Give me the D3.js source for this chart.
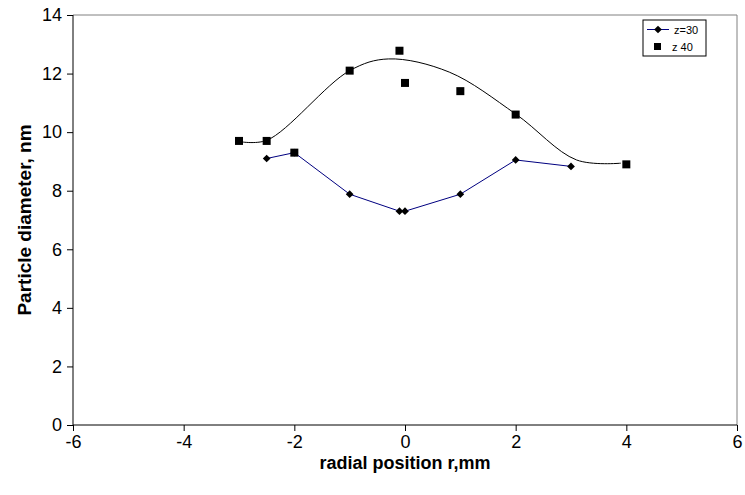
<!DOCTYPE html>
<html>
<head>
<meta charset="utf-8">
<script src="https://cdn.jsdelivr.net/npm/d3@7"></script>
<style>
  html, body { margin: 0; padding: 0; background: #fff; }
  svg { display: block; font-family: "Liberation Sans", Arial, sans-serif; }
</style>
</head>
<body>
<svg id="chart" width="745" height="495"></svg>
<script>
// Measurements along the radial direction (mm) and particle diameters (nm)
const z30R = [-2.5, -2, -1, -0.1, 0, 1, 2, 3];
const z30D = [9.1, 9.3, 7.88, 7.3, 7.3, 7.88, 9.05, 8.83];

const z40R = [-3, -2.5, -2, -1, -0.1, 0, 1, 2, 4];
const z40D = [9.7, 9.7, 9.3, 12.1, 12.78, 11.68, 11.4, 10.6, 8.9];

// Smoothed trend drawn through the z 40 profile
const trendR = [-3, -2.5, -1, -0.3, 0.8, 2, 3.1, 3.9];
const trendD = [9.68, 9.72, 12.1, 12.5, 12.05, 10.62, 9.05, 8.94];

const xTicks = [-6, -4, -2, 0, 2, 4, 6];
const yTicks = [0, 2, 4, 6, 8, 10, 12, 14];

const svg = d3.select("#chart");
const plot = { left: 73, right: 737, top: 15, bottom: 425 };

const x = d3.scaleLinear().domain([-6, 6]).range([plot.left, plot.right]);
const y = d3.scaleLinear().domain([0, 14]).range([plot.bottom, plot.top]);
const fmt = d => String(d);

// Plot area frame (top and right edges)
svg.append("path")
  .attr("d", `M${plot.left},${plot.top}H${plot.right}V${plot.bottom}`)
  .attr("fill", "none")
  .attr("stroke", "#808080")
  .attr("stroke-width", 1);

// Axes
const xAxis = svg.append("g")
  .attr("transform", `translate(0,${plot.bottom})`)
  .call(d3.axisBottom(x).tickValues(xTicks).tickSize(6).tickPadding(4).tickFormat(fmt));
const yAxis = svg.append("g")
  .attr("transform", `translate(${plot.left},0)`)
  .call(d3.axisLeft(y).tickValues(yTicks).tickSize(6).tickPadding(5).tickFormat(fmt));

xAxis.select(".domain").attr("stroke", "#000").attr("d", `M${plot.left},0H${plot.right}`);
yAxis.select(".domain").attr("stroke", "#000").attr("d", `M0,${plot.bottom}V${plot.top}`);
[xAxis, yAxis].forEach(g => {
  g.selectAll(".tick line").attr("stroke", "#000");
  g.selectAll(".tick text")
    .attr("fill", "#000")
    .style("font-size", "18px")
    .style("font-family", "'Liberation Sans', Arial, sans-serif");
});

// Axis titles
svg.append("text")
  .attr("x", (plot.left + plot.right) / 2)
  .attr("y", 469)
  .attr("text-anchor", "middle")
  .style("font-size", "18px")
  .style("font-weight", "bold")
  .text("radial position r,mm");

svg.append("text")
  .attr("transform", `translate(31,${(plot.top + plot.bottom) / 2}) rotate(-90)`)
  .attr("text-anchor", "middle")
  .style("font-size", "19px")
  .style("font-weight", "bold")
  .text("Particle diameter, nm");

const z30 = z30R.map((r, i) => ({ r, d: z30D[i] }));
const z40 = z40R.map((r, i) => ({ r, d: z40D[i] }));
const trend = trendR.map((r, i) => ({ r, d: trendD[i] }));

// Smoothed trend line
svg.append("path")
  .datum(trend)
  .attr("fill", "none")
  .attr("stroke", "#000")
  .attr("stroke-width", 1)
  .attr("d", d3.line().x(p => x(p.r)).y(p => y(p.d)).curve(d3.curveCatmullRom.alpha(0.5)));

// z=30: connected diamonds
svg.append("path")
  .datum(z30)
  .attr("fill", "none")
  .attr("stroke", "#000080")
  .attr("stroke-width", 1)
  .attr("d", d3.line().x(p => x(p.r)).y(p => y(p.d)));

const diamond = d3.symbol().type(d3.symbolSquare).size(30);
svg.append("g").selectAll("path")
  .data(z30)
  .join("path")
  .attr("transform", p => `translate(${x(p.r)},${y(p.d)}) rotate(45)`)
  .attr("d", diamond)
  .attr("fill", "#000");

// z 40: square markers
const sq = 8;
svg.append("g").selectAll("rect")
  .data(z40)
  .join("rect")
  .attr("x", p => x(p.r) - sq / 2)
  .attr("y", p => y(p.d) - sq / 2)
  .attr("width", sq)
  .attr("height", sq)
  .attr("fill", "#000");

// Legend
const lg = svg.append("g").attr("transform", "translate(643,20)");
lg.append("rect")
  .attr("width", 63).attr("height", 36)
  .attr("fill", "#fff").attr("stroke", "#000").attr("stroke-width", 1);
lg.append("line")
  .attr("x1", 4).attr("x2", 26).attr("y1", 9.5).attr("y2", 9.5)
  .attr("stroke", "#000080");
lg.append("path")
  .attr("transform", "translate(15,9.5) rotate(45)")
  .attr("d", diamond).attr("fill", "#000");
lg.append("text")
  .attr("x", 31).attr("y", 13.5)
  .style("font-size", "11px").text("z=30");
lg.append("rect")
  .attr("x", 11).attr("y", 23).attr("width", 7).attr("height", 7).attr("fill", "#000");
lg.append("text")
  .attr("x", 29).attr("y", 30.5)
  .style("font-size", "11px").text("z 40");
</script>
</body>
</html>
